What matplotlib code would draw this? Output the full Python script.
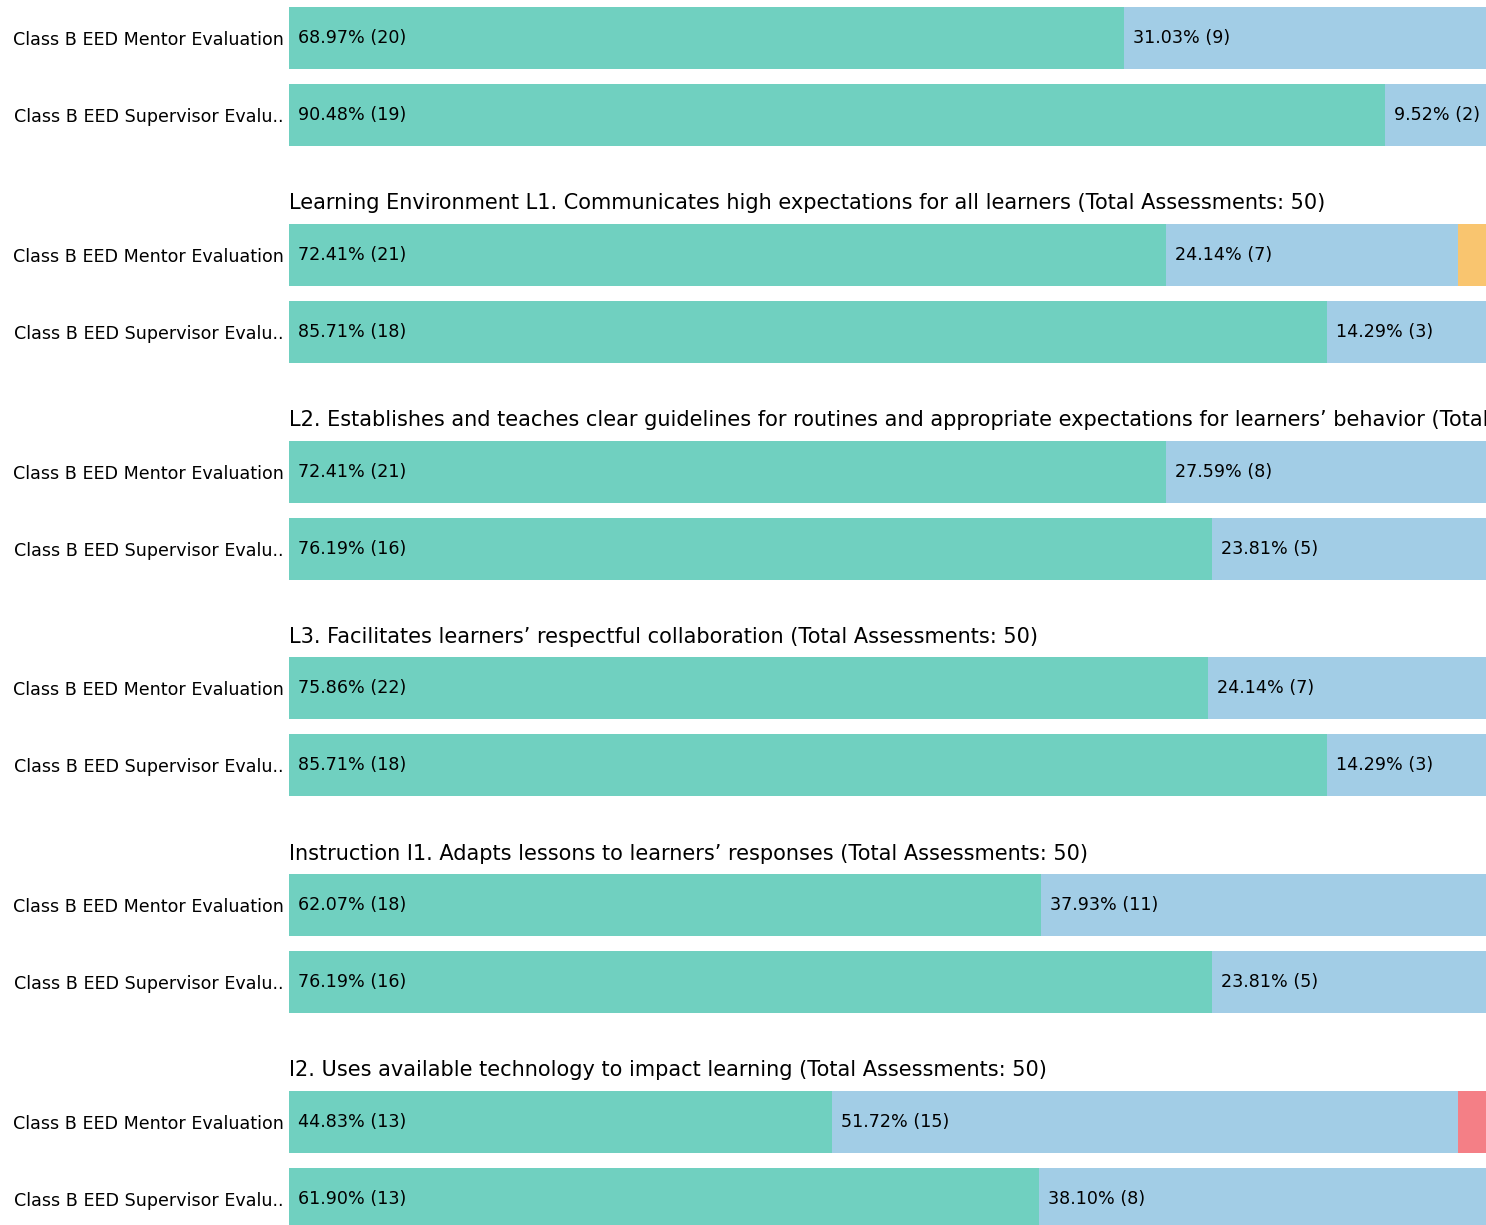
import numpy as np
import matplotlib
matplotlib.use("Agg")
import matplotlib.pyplot as plt

# rating levels (left to right in each bar)
LEVELS = ["Level 4", "Level 3", "Level 2", "Level 1"]
COLORS = ["#70d0c0", "#a2cde6", "#f9c56f", "#f47f86"]

ROWS = ["Class B EED Mentor Evaluation", "Class B EED Supervisor Evalu.."]

titles = [
    "",
    "Learning Environment L1. Communicates high expectations for all learners (Total Assessments: 50)",
    "L2. Establishes and teaches clear guidelines for routines and appropriate expectations for learners\u2019 behavior (Total Assessments: 50)",
    "L3. Facilitates learners\u2019 respectful collaboration (Total Assessments: 50)",
    "Instruction I1. Adapts lessons to learners\u2019 responses (Total Assessments: 50)",
    "I2. Uses available technology to impact learning (Total Assessments: 50)",
]

# counts per level: [mentor row, supervisor row]
counts = [
    [[20, 9, 0, 0], [19, 2, 0, 0]],
    [[21, 7, 1, 0], [18, 3, 0, 0]],
    [[21, 8, 0, 0], [16, 5, 0, 0]],
    [[22, 7, 0, 0], [18, 3, 0, 0]],
    [[18, 11, 0, 0], [16, 5, 0, 0]],
    [[13, 15, 0, 1], [13, 8, 0, 0]],
]

W, H = 1486, 1225
fig = plt.figure(figsize=(W / 100, H / 100), dpi=100)

x0, ax_w = 289, 1211
bar_h = 62 / 77
for g, (title, grp) in enumerate(zip(titles, counts)):
    top = 7 + 216.8 * g
    ax = fig.add_axes([x0 / W, 1 - (top + 139) / H, ax_w / W, 139 / H])
    data = np.array(grp, dtype=float)
    pct = data / data.sum(axis=1, keepdims=True) * 100
    left = np.zeros(len(ROWS))
    for k in range(len(LEVELS)):
        ax.barh(np.arange(len(ROWS)), pct[:, k], left=left, height=bar_h,
                color=COLORS[k], linewidth=0)
        for r in range(len(ROWS)):
            if pct[r, k] > 5:
                ax.annotate(f"{pct[r, k]:.2f}% ({int(data[r, k])})",
                            (left[r], r), xytext=(6.5, 0), textcoords="offset points",
                            va="center", ha="left", fontsize=12.6)
        left += pct[:, k]
    ax.set_xlim(0, 100)
    ax.set_ylim(1 + bar_h / 2, -bar_h / 2)
    ax.set_yticks(range(len(ROWS)))
    ax.set_yticklabels(ROWS, fontsize=12.6)
    ax.tick_params(axis="y", length=0, pad=4)
    ax.set_xticks([])
    for s in ax.spines.values():
        s.set_visible(False)
    if title:
        ax.set_title(title, loc="left", fontsize=15, pad=10.5)

fig.savefig("out.png", dpi=100)
